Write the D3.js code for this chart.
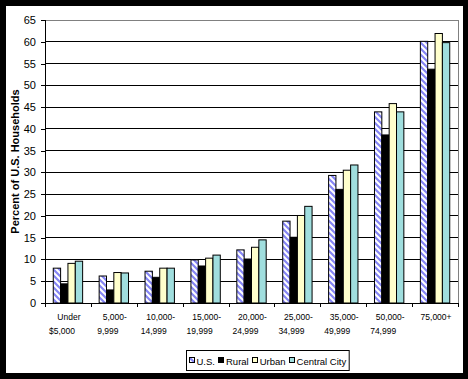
<!DOCTYPE html>
<html><head><meta charset="utf-8">
<script src="https://cdn.jsdelivr.net/npm/d3@7"></script>
<style>body{margin:0;background:#000}svg{display:block}</style>
</head><body>
<script>
const categories = ["Under|$5,000","5,000-|9,999","10,000-|14,999","15,000-|19,999","20,000-|24,999","25,000-|34,999","35,000-|49,999","50,000-|74,999","75,000+|"];
const seriesNames = ["U.S.","Rural","Urban","Central City"];
const usValues      = [8.0, 6.2, 7.3, 9.9, 12.2, 18.8, 29.3, 43.9, 60.1];
const ruralValues   = [4.4, 3.0, 5.9, 8.5, 10.1, 15.1, 26.1, 38.6, 53.7];
const urbanValues   = [9.1, 7.0, 8.0, 10.3, 12.8, 20.1, 30.5, 45.8, 61.9];
const centralValues = [9.6, 6.9, 8.0, 11.0, 14.5, 22.2, 31.7, 43.9, 59.8];
const yTicks = [0,5,10,15,20,25,30,35,40,45,50,55,60,65];
const yTitle = "Percent of U.S. Households";

const W=468,H=379;
const FONT="Liberation Sans, Arial, sans-serif";
const svg=d3.select("body").append("svg").attr("width",W).attr("height",H);
svg.append("rect").attr("width",W).attr("height",H).attr("fill","#000");
svg.append("rect").attr("x",6).attr("y",6).attr("width",457).attr("height",367).attr("fill","#fff");

const defs=svg.append("defs");
const pat=defs.append("pattern").attr("id","hatch").attr("patternUnits","userSpaceOnUse")
  .attr("width",6).attr("height",6);
pat.append("rect").attr("width",6).attr("height",6).attr("fill","#fff");
pat.append("path").attr("d","M-1,-1 L7,7 M-4,2 L2,8 M4,-2 L8,2").attr("stroke","#8585f5").attr("stroke-width",2.2);

const fills=["url(#hatch)","#000","#ffffcc","#a0dede"];

const L=45,R=458,T=20,B=303;
const x=d3.scaleBand().domain(categories).range([L,R]).paddingInner(0.36).paddingOuter(0.18);
const xs=d3.scaleBand().domain(seriesNames).range([0,x.bandwidth()]);
const y=d3.scaleLinear().domain([0,65]).range([B,T]);

// gridlines
svg.append("g").selectAll("line").data(yTicks.filter(v=>v>0&&v<65)).join("line")
  .attr("x1",L).attr("x2",R).attr("y1",d=>y(d)).attr("y2",d=>y(d)).attr("stroke","#000").attr("shape-rendering","crispEdges");
// plot border top/right gray
svg.append("path").attr("d",`M${L},${y(65)}H${R}V${B}`).attr("fill","none").attr("stroke","#808080").attr("shape-rendering","crispEdges");

const data=[usValues,ruralValues,urbanValues,centralValues];
const g=svg.append("g");
categories.forEach((c,i)=>{
  seriesNames.forEach((s,j)=>{
    const v=data[j][i];
    g.append("rect").attr("x",x(c)+xs(s)).attr("y",y(v)).attr("width",xs.bandwidth()).attr("height",y(0)-y(v))
      .attr("fill",fills[j]).attr("stroke","#000").attr("stroke-width",1);
  });
});

// y axis
const yAxis=d3.axisLeft(y).tickValues(yTicks).tickSize(4).tickPadding(5);
const ya=svg.append("g").attr("transform",`translate(${L},0)`).call(yAxis);
ya.select(".domain").attr("stroke","#000").attr("shape-rendering","crispEdges");
ya.selectAll(".tick line").attr("stroke","#000").attr("shape-rendering","crispEdges");
ya.selectAll("text").attr("font-family",FONT).attr("font-size","11px").attr("fill","#000");

// x axis
const xa=svg.append("g").attr("transform",`translate(0,${B})`);
xa.append("line").attr("x1",L).attr("x2",R).attr("stroke","#000").attr("shape-rendering","crispEdges");
const step=x.step();
const bounds=d3.range(categories.length+1).map(i=>L+i*step);
xa.selectAll("line.tk").data(bounds).join("line").attr("class","tk")
  .attr("x1",d=>Math.round(d)+0.5).attr("x2",d=>Math.round(d)+0.5).attr("y1",0).attr("y2",4).attr("stroke","#000");
categories.forEach(c=>{
  const cx=x(c)+x.bandwidth()/2;
  const [l1,l2]=c.split("|");
  const t=svg.append("text").attr("font-family",FONT).attr("font-size","8.5px").attr("fill","#000").attr("text-anchor","middle");
  t.append("tspan").attr("x",cx+1).attr("y",319.5).text(l1);
  if(l2) t.append("tspan").attr("x",cx-6).attr("y",333.5).text(l2);
});

// y title
svg.append("text").attr("transform",`translate(19,${(T+B)/2}) rotate(-90)`).attr("text-anchor","middle")
  .attr("font-family",FONT).attr("font-size","11px").attr("font-weight","bold").text(yTitle);

// legend: measured sequential layout
const lg=svg.append("g");
const box=lg.append("rect").attr("y",350.5).attr("height",20).attr("fill","#fff").attr("stroke","#000");
let cur=0;
const items=[];
seriesNames.forEach((s,j)=>{
  const sw=lg.append("rect").attr("y",357.5).attr("width",5).attr("height",5).attr("fill",fills[j]).attr("stroke","#000");
  const tx=lg.append("text").attr("y",364.5).attr("font-family",FONT).attr("font-size","9.5px").text(s);
  const w=tx.node().getComputedTextLength();
  items.push({sw,tx,off:cur});
  cur+=6+2+w+(j<seriesNames.length-1?3:0);
});
const boxW=cur+5;
const boxX=Math.round(267.5-boxW/2)+0.5;
box.attr("x",boxX).attr("width",boxW);
items.forEach(it=>{
  it.sw.attr("x",Math.round(boxX+2+it.off)+0.5);
  it.tx.attr("x",boxX+2+it.off+8);
});
</script>
</body></html>
